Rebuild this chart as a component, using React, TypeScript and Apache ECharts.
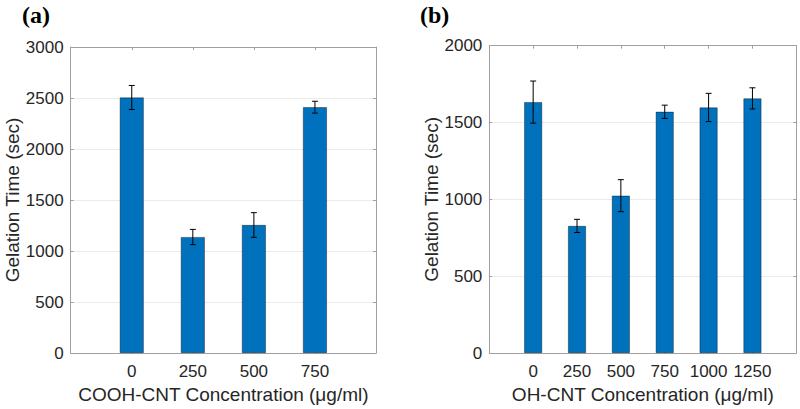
import React, { useEffect, useRef } from "react";
import * as echarts from "echarts";

// Panel (a): COOH-CNT
const concA = [0, 250, 500, 750];
const timeA = [2505, 1137, 1255, 2410];
const errA = [118, 75, 121, 58];

// Panel (b): OH-CNT
const concB = [0, 250, 500, 750, 1000, 1250];
const timeB = [1633, 827, 1024, 1570, 1598, 1657];
const errB = [137, 43, 104, 43, 92, 69];

const yTicksA = [0, 500, 1000, 1500, 2000, 2500, 3000];
const yTicksB = [0, 500, 1000, 1500, 2000];

const BAR = "#0072BD";
const AXIS = "#a0a0a0";
const GRIDC = "#ebebeb";
const TXT = "#262626";
const FONT = "'Liberation Sans', Arial, Helvetica, sans-serif";
const SERIF = "'Liberation Serif', 'Times New Roman', serif";

export default function App() {
  const ref = useRef<HTMLDivElement>(null);
  useEffect(() => {
    if (!ref.current) return;
    const chart = echarts.init(ref.current, undefined, { renderer: "svg" });

    const errItem = (params: any, api: any) => {
      const x = api.value(0);
      const y = api.value(1);
      const e = api.value(2);
      const t = api.coord([x, y + e]);
      const b = api.coord([x, y - e]);
      const cap = 3;
      const st = { stroke: "#000", lineWidth: 1 };
      return {
        type: "group",
        children: [
          { type: "line", shape: { x1: t[0], y1: t[1], x2: b[0], y2: b[1] }, style: st },
          { type: "line", shape: { x1: t[0] - cap, y1: t[1], x2: t[0] + cap, y2: t[1] }, style: st },
          { type: "line", shape: { x1: b[0] - cap, y1: b[1], x2: b[0] + cap, y2: b[1] }, style: st },
        ],
      };
    };

    const line = { show: true, onZero: false, lineStyle: { color: AXIS, width: 1 } };
    const tick = { show: true, inside: true, length: 3, lineStyle: { color: AXIS } };

    const mkX = (gi: number, max: number, name: string) => [
      {
        gridIndex: gi,
        type: "value",
        min: -250,
        max,
        interval: 250,
        position: "bottom",
        name,
        nameLocation: "middle",
        nameGap: 32,
        nameTextStyle: { fontFamily: FONT, fontSize: 19, color: TXT },
        axisLine: line,
        axisTick: tick,
        axisLabel: {
          fontFamily: FONT,
          fontSize: 17,
          color: TXT,
          margin: 10,
          formatter: (v: number) => (v < 0 || v >= max ? "" : String(v)),
        },
        splitLine: { show: false },
      },
      {
        gridIndex: gi,
        type: "value",
        min: -250,
        max,
        interval: 250,
        position: "top",
        axisLine: line,
        axisTick: tick,
        axisLabel: { show: false },
        splitLine: { show: false },
      },
    ];

    const mkY = (gi: number, ticks: number[]) => {
      const max = ticks[ticks.length - 1];
      return [
        {
          gridIndex: gi,
          type: "value",
          min: 0,
          max,
          interval: 500,
          position: "left",
          name: "Gelation Time (sec)",
          nameLocation: "middle",
          nameGap: 48,
          nameTextStyle: { fontFamily: FONT, fontSize: 19, color: TXT },
          axisLine: line,
          axisTick: tick,
          axisLabel: { fontFamily: FONT, fontSize: 17, color: TXT, margin: 7, formatter: (v: number) => String(v) },
          splitLine: { show: true, lineStyle: { color: GRIDC, width: 1 } },
        },
        {
          gridIndex: gi,
          type: "value",
          min: 0,
          max,
          interval: 500,
          position: "right",
          axisLine: line,
          axisTick: tick,
          axisLabel: { show: false },
          splitLine: { show: false },
        },
      ];
    };

    const barStyle = { color: BAR, borderColor: "rgba(0,0,0,0.55)", borderWidth: 0.7 };

    chart.setOption({
      animation: false,
      graphic: [
        {
          type: "text",
          left: 22,
          top: 3,
          style: { text: "(a)", font: `bold 24px ${SERIF}`, fill: "#000" },
        },
        {
          type: "text",
          left: 420,
          top: 3,
          style: { text: "(b)", font: `bold 24px ${SERIF}`, fill: "#000" },
        },
      ],
      grid: [
        { left: 70.7, top: 47, width: 305.3, height: 306.3 },
        { left: 489.3, top: 45.7, width: 307, height: 308.6 },
      ],
      xAxis: [...mkX(0, 1000, "COOH-CNT Concentration (μg/ml)"), ...mkX(1, 1500, "OH-CNT Concentration (μg/ml)")],
      yAxis: [...mkY(0, yTicksA), ...mkY(1, yTicksB)],
      series: [
        {
          type: "bar",
          xAxisIndex: 0,
          yAxisIndex: 0,
          barWidth: 24,
          itemStyle: barStyle,
          data: concA.map((c, i) => [c, timeA[i]]),
        },
        {
          type: "custom",
          xAxisIndex: 0,
          yAxisIndex: 0,
          z: 5,
          renderItem: errItem,
          encode: { x: 0, y: 1 },
          data: concA.map((c, i) => [c, timeA[i], errA[i]]),
        },
        {
          type: "bar",
          xAxisIndex: 2,
          yAxisIndex: 2,
          barWidth: 18,
          itemStyle: barStyle,
          data: concB.map((c, i) => [c, timeB[i]]),
        },
        {
          type: "custom",
          xAxisIndex: 2,
          yAxisIndex: 2,
          z: 5,
          renderItem: errItem,
          encode: { x: 0, y: 1 },
          data: concB.map((c, i) => [c, timeB[i], errB[i]]),
        },
      ],
    });
    return () => chart.dispose();
  }, []);
  return <div ref={ref} style={{ width: 800, height: 409, position: "absolute", left: 0, top: 0, background: "#fff" }} />;
}
